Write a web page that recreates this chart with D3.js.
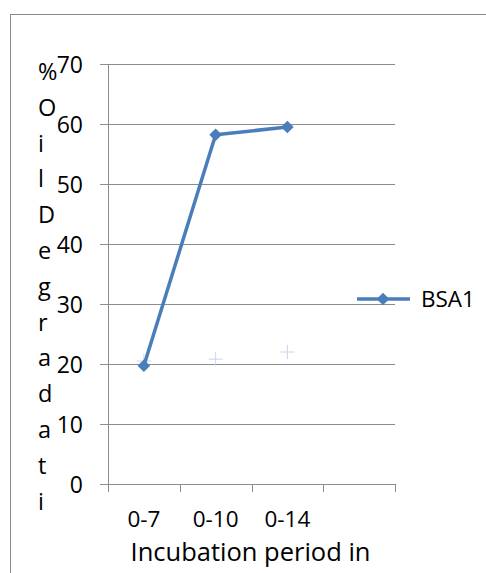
<!DOCTYPE html>
<html>
<head>
<meta charset="utf-8">
<script src="https://cdn.jsdelivr.net/npm/d3@7/dist/d3.min.js"></script>
<style>
  html, body { margin: 0; padding: 0; background: #fff; }
  svg { display: block; font-family: "Open Sans", Lato, sans-serif; }
</style>
</head>
<body>
<svg id="chart" width="486" height="573"></svg>
<script>
// Incubation periods (the fourth slot is left empty on the axis)
const categories = ["0-7", "0-10", "0-14", ""];
// % oil degradation, strain BSA1
const bsa1 = [19.7, 58.2, 59.5];
// Faint companion series drawn as markers only
const companion = [20.5, 20.8, 22.0];
const yTicks = [0, 10, 20, 30, 40, 50, 60, 70];
const yTitle = "%Oil Degradati";
const xTitle = "Incubation period in";
const legendLabel = "BSA1";

const svg = d3.select("#chart");
const blue = "#4a7ebb";
const grid = "#8c8c8c";

// Chart frame
svg.append("rect")
  .attr("x", 10.5).attr("y", 14.5)
  .attr("width", 600).attr("height", 700)
  .attr("fill", "none").attr("stroke", "#8a8a8a").attr("stroke-width", 1);

const plot = { left: 108, right: 395, top: 64, bottom: 484 };

const x = d3.scaleBand().domain(categories).range([plot.left, plot.right]);
const y = d3.scaleLinear().domain([0, 70]).range([plot.bottom, plot.top]);

// Horizontal gridlines with left tick stubs
svg.append("g").selectAll("line").data(yTicks).join("line")
  .attr("x1", plot.left - 8).attr("x2", plot.right)
  .attr("y1", d => Math.round(y(d)) + 0.5).attr("y2", d => Math.round(y(d)) + 0.5)
  .attr("stroke", grid).attr("stroke-width", 1);

// Vertical axis line
svg.append("line")
  .attr("x1", plot.left + 0.5).attr("x2", plot.left + 0.5)
  .attr("y1", plot.top).attr("y2", plot.bottom)
  .attr("stroke", grid);

// Category boundary ticks below the baseline
const bounds = categories.map(c => x(c)).concat([x(categories[categories.length - 1]) + x.bandwidth()]);
svg.append("g").selectAll("line").data(bounds).join("line")
  .attr("x1", d => Math.round(d) + 0.5).attr("x2", d => Math.round(d) + 0.5)
  .attr("y1", plot.bottom).attr("y2", plot.bottom + 8)
  .attr("stroke", grid);

// Y tick labels
svg.append("g").selectAll("text").data(yTicks).join("text")
  .attr("x", 83).attr("y", d => y(d) + 8.5)
  .attr("text-anchor", "end")
  .attr("font-size", 23).attr("fill", "#000")
  .text(d => d);

// X tick labels
svg.append("g").selectAll("text").data(categories.filter(c => c)).join("text")
  .attr("x", d => x(d) + x.bandwidth() / 2).attr("y", 526.5)
  .attr("text-anchor", "middle")
  .attr("font-size", 22.5).attr("fill", "#000")
  .text(d => d);

// X axis title
svg.append("text")
  .attr("x", 250.5).attr("y", 561)
  .attr("text-anchor", "middle")
  .attr("font-size", 25.5).attr("fill", "#000")
  .text(xTitle);

// Y axis title, stacked one character per line
svg.append("g").selectAll("text").data(yTitle.replace(/ /g, "").split("")).join("text")
  .attr("x", 38).attr("y", (d, i) => 80 + i * 35.8)
  .attr("font-size", 23.5).attr("fill", "#000")
  .text(d => d);

const cx = (d, i) => x(categories[i]) + x.bandwidth() / 2;

// Companion markers (plus signs)
svg.append("g").selectAll("g").data(companion).join("g")
  .attr("transform", (d, i) => `translate(${cx(d, i)},${y(d)})`)
  .each(function () {
    const g = d3.select(this);
    g.append("line").attr("x1", -7).attr("x2", 7).attr("stroke", "#c6d6ec").attr("stroke-width", 1);
    g.append("line").attr("y1", -7).attr("y2", 7).attr("stroke", "#c6d6ec").attr("stroke-width", 1);
  });

// BSA1 line
const line = d3.line().x((d, i) => cx(d, i)).y(d => y(d));
svg.append("path").datum(bsa1)
  .attr("d", line)
  .attr("fill", "none").attr("stroke", blue)
  .attr("stroke-width", 3.5).attr("stroke-linejoin", "round");

// BSA1 diamonds
const marker = d3.symbol().type(d3.symbolSquare).size(80);
svg.append("g").selectAll("path").data(bsa1).join("path")
  .attr("transform", (d, i) => `translate(${cx(d, i)},${y(d)}) rotate(45)`)
  .attr("d", marker)
  .attr("fill", blue);

// Legend
const ly = 299;
svg.append("line")
  .attr("x1", 357).attr("x2", 410).attr("y1", ly).attr("y2", ly)
  .attr("stroke", blue).attr("stroke-width", 3.5);
svg.append("path")
  .attr("transform", `translate(383,${ly}) rotate(45)`)
  .attr("d", marker)
  .attr("fill", blue);
svg.append("text")
  .attr("x", 421).attr("y", 307)
  .attr("font-size", 22.5).attr("fill", "#000")
  .text(legendLabel);
</script>
</body>
</html>
